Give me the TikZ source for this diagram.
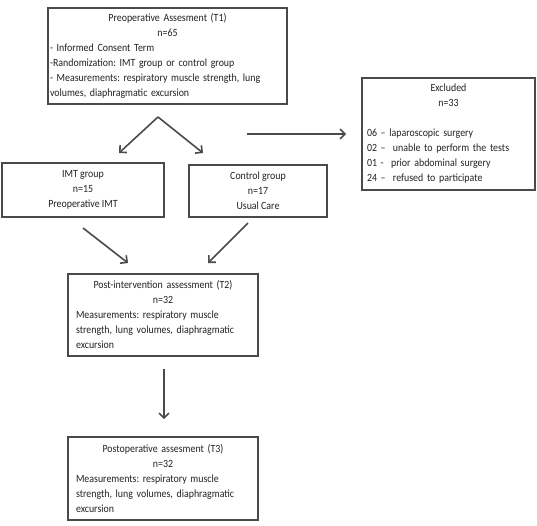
\documentclass[tikz,border=0pt]{standalone}
\usepackage{fontspec}
\setmainfont[FakeStretch=0.9]{Carlito}
\usetikzlibrary{arrows.meta}
\definecolor{boxline}{HTML}{4A4A4A}
\definecolor{boxtext}{HTML}{222222}
\frenchspacing
\tikzset{
  stage/.style={draw=boxline, line width=1.6pt, inner sep=0pt, text=boxtext,
    font=\fontsize{11}{15}\selectfont},
  flow/.style={draw=boxline, line width=1.6pt, -{Straight Barb[length=5pt,width=10pt]}},
}
\begin{document}
\begin{tikzpicture}[x=1pt, y=-1pt]
\useasboundingbox (0,0) rectangle (537,525);
% boxes
\node[stage, minimum width=239pt, minimum height=96pt, text width=235pt] (T_1) at (167.5,56)
  {{\centering Preoperative Assesment (T1)\\ n=65\par}\raggedright
   - Informed Consent Term\\
   -Randomization: IMT group or control group\\
   - Measurements: respiratory muscle strength, lung\\
   volumes, diaphragmatic excursion};
\node[stage, minimum width=173pt, minimum height=112pt, text width=163pt] (EX) at (448.5,134)
  {{\centering Excluded\\ n=33\par}\raggedright
   \mbox{}\\
   06 -- laparoscopic surgery\\
   02 --\ \ unable to perform the tests\\
   01 -\ \ prior abdominal surgery\\
   24 --\ \ refused to participate};
\node[stage, minimum width=162pt, minimum height=54pt, align=center] (G_imt) at (83,190)
  {IMT group\\ n=15\\ Preoperative IMT};
\node[stage, minimum width=138pt, minimum height=52pt, align=center] (G_ctrl) at (258,191)
  {Control group\\ n=17\\ Usual Care};
\node[stage, minimum width=190pt, minimum height=82pt, text width=174pt] (T_2) at (163,315)
  {{\centering Post-intervention assessment (T2)\\ n=32\par}\raggedright
   Measurements: respiratory muscle\\
   strength, lung volumes, diaphragmatic\\
   excursion};
\node[stage, minimum width=190pt, minimum height=83pt, text width=174pt] (T_3) at (163,478.5)
  {{\centering Postoperative assesment (T3)\\ n=32\par}\raggedright
   Measurements: respiratory muscle\\
   strength, lung volumes, diaphragmatic\\
   excursion};
% arrows
\coordinate (split) at (158,117);
\coordinate (to_imt) at (119,153);
\coordinate (to_ctrl) at (203,153);
\draw[flow] (split) -- (to_imt);
\draw[flow] (split) -- (to_ctrl);
\coordinate (ex_from) at (247,134);
\draw[flow, shorten >=15pt] (ex_from) -- (ex_from -| EX.west);
\coordinate (imt_out) at (83,228);
\coordinate (ctrl_out) at (248,223);
\coordinate (t2_left) at (128,263);
\coordinate (t2_right) at (208,263);
\draw[flow] (imt_out) -- (t2_left);
\draw[flow] (ctrl_out) -- (t2_right);
\draw[flow, shorten <=12pt, shorten >=17pt] (T_2.south -| 164,0) -- (T_3.north -| 164,0);
\end{tikzpicture}
\end{document}
